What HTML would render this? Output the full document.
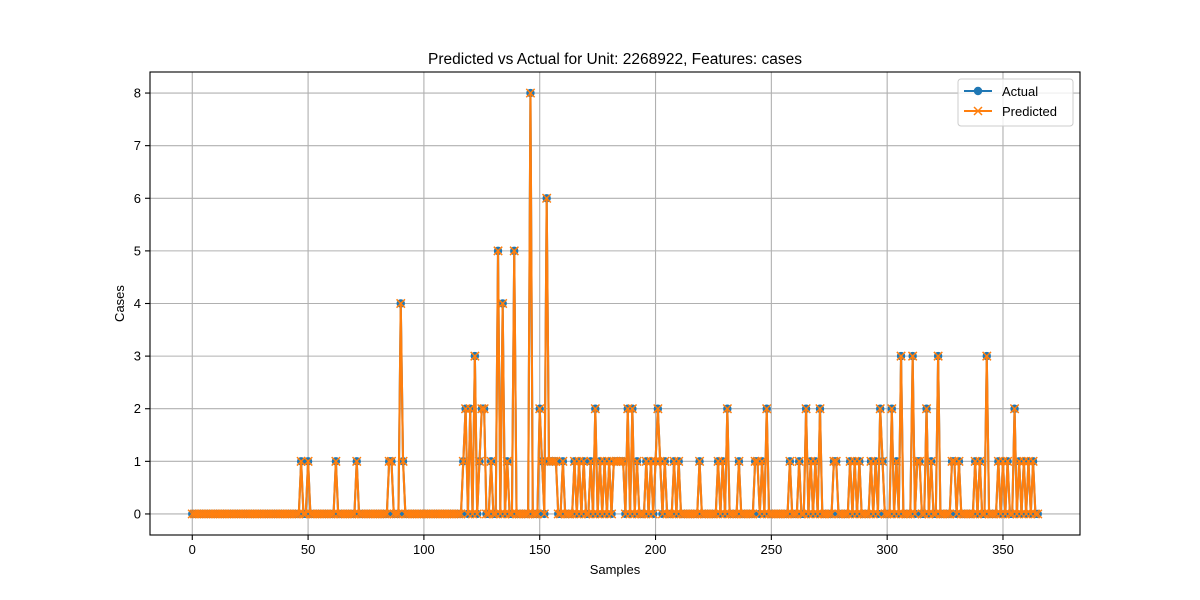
<!DOCTYPE html>
<html><head><meta charset="utf-8"><style>body{margin:0;background:#fff}svg{display:block;font-family:"Liberation Sans","DejaVu Sans",sans-serif}</style></head>
<body>
<svg id="c" width="1200" height="600" xmlns="http://www.w3.org/2000/svg"></svg>
<script>
const N = 366;
const nonzeroIdx = [47,50,62,71,85,86,90,91,117,118,120,122,124,125,126,129,132,134,136,139,146,150,151,153,154,155,156,157,160,165,167,169,172,174,176,178,180,182,183,184,185,186,188,190,192,196,198,200,201,202,204,208,210,219,227,229,231,236,243,244,246,248,258,262,265,267,269,271,277,278,284,286,288,293,295,297,298,302,304,306,311,313,314,317,319,322,328,329,331,338,340,343,348,350,352,355,357,359,361,363];
const nonzeroVal = [1,1,1,1,1,1,4,1,1,2,2,3,1,2,2,1,5,4,1,5,8,2,1,6,1,1,1,1,1,1,1,1,1,2,1,1,1,1,1,1,1,1,2,2,1,1,1,1,2,1,1,1,1,1,1,1,2,1,1,1,1,2,1,1,2,1,1,2,1,1,1,1,1,1,1,2,1,2,1,3,3,1,1,2,1,3,1,1,1,1,1,3,1,1,1,2,1,1,1,1];
const actual = new Array(N).fill(0);
nonzeroIdx.forEach((k,j)=>{actual[k]=nonzeroVal[j];});
const predicted = actual.slice();
const xTicks = [0,50,100,150,200,250,300,350];
const yTicks = [0,1,2,3,4,5,6,7,8];

const L=150,R=1080,T=72,B=535;
const xmin=-18.25,xmax=383.25,ymin=-0.4,ymax=8.4;
const X=v=>L+(v-xmin)/(xmax-xmin)*(R-L);
const Y=v=>B-(v-ymin)/(ymax-ymin)*(B-T);
const svg=document.getElementById('c');
const NS='http://www.w3.org/2000/svg';
function mk(tag,attrs,parent){const e=document.createElementNS(NS,tag);for(const k in attrs)e.setAttribute(k,attrs[k]);(parent||svg).appendChild(e);return e;}

const grid=mk('g',{});


xTicks.forEach(t=>{
  mk('line',{x1:X(t),x2:X(t),y1:T,y2:B,stroke:'#b0b0b0','stroke-width':1.1},grid);
  mk('line',{x1:X(t),x2:X(t),y1:B,y2:B+5,stroke:'#000','stroke-width':1.1},grid);
  const tx=mk('text',{x:X(t),y:B+19,'text-anchor':'middle','font-size':13},grid);
  tx.textContent=t;
  
  
});
yTicks.forEach(t=>{
  mk('line',{x1:L,x2:R,y1:Y(t),y2:Y(t),stroke:'#b0b0b0','stroke-width':1.1},grid);
  mk('line',{x1:L-5,x2:L,y1:Y(t),y2:Y(t),stroke:'#000','stroke-width':1.1},grid);
  const tx=mk('text',{x:L-9,y:Y(t)+4.5,'text-anchor':'end','font-size':13},grid);
  tx.textContent=t;
  
  
});

function series(data,color,name,marker){
  const g=mk('g',{});
  
  
  mk('polyline',{points:data.map((v,i)=>X(i)+','+Y(v)).join(' '),fill:'none',stroke:color,'stroke-width':2.1,'stroke-linejoin':'round'},g);
  data.forEach((v,i)=>{
    if(marker==='o'){mk('circle',{cx:X(i),cy:Y(v),r:4.2,fill:color},g);}
    else{const x=X(i),y=Y(v),s=4.2;mk('path',{d:`M${x-s},${y-s}L${x+s},${y+s}M${x-s},${y+s}L${x+s},${y-s}`,stroke:color,'stroke-width':1.5},g);}
  });
}
series(actual,'#1f77b4','actual-series','o');
series(predicted,'#ff7f0e','predicted-series','x');

const frame=mk('rect',{x:L,y:T,width:R-L,height:B-T,fill:'none',stroke:'#000','stroke-width':1.1});



const title=mk('text',{x:(L+R)/2,y:64,'text-anchor':'middle','font-size':15.5});
title.textContent='Predicted vs Actual for Unit: 2268922, Features: cases';


const xl=mk('text',{x:(L+R)/2,y:574,'text-anchor':'middle','font-size':13});
xl.textContent='Samples';


const yl=mk('text',{x:124,y:(T+B)/2,'text-anchor':'middle','font-size':13,transform:`rotate(-90 124 ${(T+B)/2})`});
yl.textContent='Cases';



const lg=mk('g',{});


mk('rect',{x:958,y:79,width:115,height:47,rx:3,fill:'#fff','fill-opacity':0.8,stroke:'#ccc'},lg);
const e1=mk('g',{},lg);


mk('line',{x1:964,x2:992,y1:91,y2:91,stroke:'#1f77b4','stroke-width':2.1},e1);
mk('circle',{cx:978,cy:91,r:4.2,fill:'#1f77b4'},e1);
const t1=mk('text',{x:1002,y:96,'font-size':13},e1);t1.textContent='Actual';
const e2=mk('g',{},lg);


mk('line',{x1:964,x2:992,y1:111,y2:111,stroke:'#ff7f0e','stroke-width':2.1},e2);
mk('path',{d:'M974,107L982,115M974,115L982,107',stroke:'#ff7f0e','stroke-width':1.5},e2);
const t2=mk('text',{x:1002,y:116,'font-size':13},e2);t2.textContent='Predicted';
</script>
</body></html>
